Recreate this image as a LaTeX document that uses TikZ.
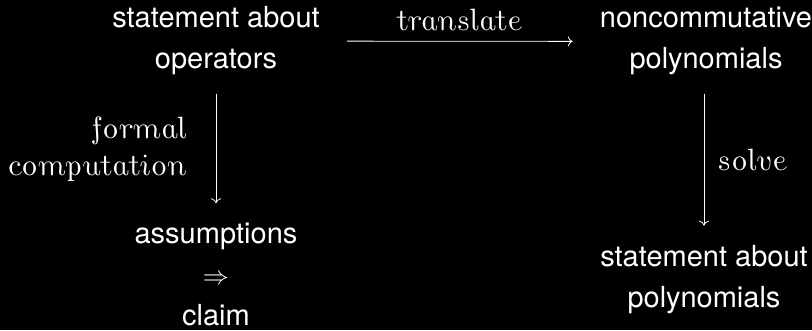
\documentclass[tikz,border=0pt]{standalone}
\usepackage[no-math]{fontspec}
\setmainfont{TeX Gyre Heros}
\usetikzlibrary{arrows.meta,positioning}

% upright italic for the arrow labels
\newcommand{\lbl}[1]{\scalebox{1.24}{\usefont{OT1}{cmr}{m}{ui}\fontsize{26}{37}\selectfont #1}}

\tikzset{
  stmt/.style={align=center,inner sep=0pt,text=white,font=\fontsize{29}{41}\selectfont},
  cdarrow/.style={draw=white,line width=0.8pt,-{Computer Modern Rightarrow[length=5pt,width=10pt]}},
  cdlabel/.style={inner sep=0pt,text=white,font=\fontsize{26}{37}\selectfont},
}

\begin{document}
\begin{tikzpicture}[x=1pt,y=1pt]
  \path[use as bounding box,fill=black] (0,0) rectangle (812,330);
  % the four statements (base = last line)
  \node[stmt,anchor=base] (ops) at (216,261) {statement about\\operators};
  \node[stmt,anchor=base] (ncp) at (706,261) {noncommutative\\polynomials};
  \node[stmt,anchor=base] (imp) at (216,5) {assumptions\\\scalebox{1.05}{$\Rightarrow$}\\claim};
  \node[stmt,anchor=base] (pol) at (704,23) {statement about\\polynomials};
  % arrows
  \draw[cdarrow,shorten <=27pt,shorten >=27pt] (ops.east) -- node[cdlabel,above=10pt] (trl) {\lbl{translate}} (ncp.west);
  \draw[cdarrow,shorten <=18pt,shorten >=19pt] (ops.south) -- node[cdlabel,left=29pt,align=right] (fml) {\lbl{formal}\\\lbl{computation}} (imp.north);
  \draw[cdarrow,shorten <=18pt,shorten >=19pt] (ncp.south -| pol.north) -- node[cdlabel,right=13pt] (slv) {\lbl{solve}} (pol.north);
\end{tikzpicture}
\end{document}
